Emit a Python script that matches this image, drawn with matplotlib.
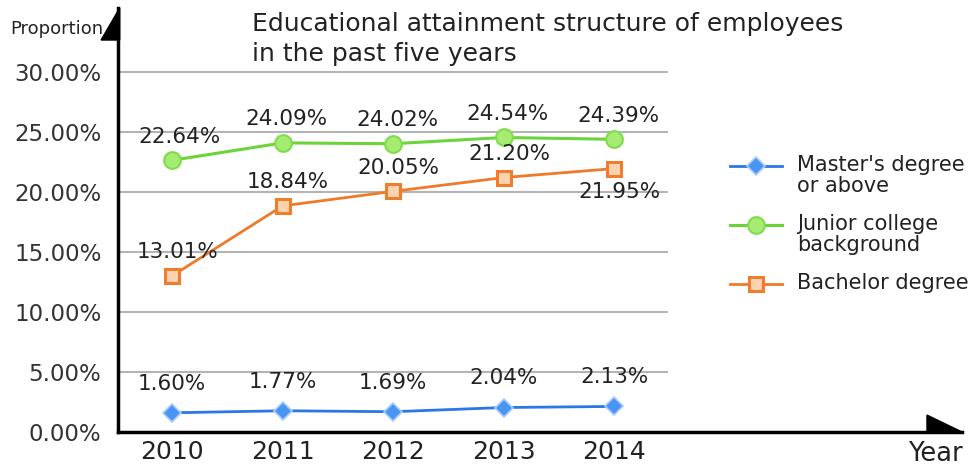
import matplotlib.pyplot as plt
from matplotlib.patches import Polygon
from matplotlib.lines import Line2D

plt.rcParams['font.family'] = ['DejaVu Sans']

years = [2010, 2011, 2012, 2013, 2014]
masters = [1.60, 1.77, 1.69, 2.04, 2.13]
junior = [22.64, 24.09, 24.02, 24.54, 24.39]
bachelor = [13.01, 18.84, 20.05, 21.20, 21.95]
series_names = ["Master's degree\nor above", "Junior college\nbackground", "Bachelor degree"]
y_ticks = [0, 5, 10, 15, 20, 25, 30]

W, H = 968, 468
fig = plt.figure(figsize=(W / 100, H / 100), dpi=100)
ax = fig.add_axes([118 / W, 36 / H, 844 / W, 424 / H])
ax.set_xlim(2009.51, 2017.15)
ax.set_ylim(0, 35.33)

# horizontal grid stops short of the legend
ax.hlines(y_ticks[1:], 2009.51, 2014.49, color='#b4b4b4', lw=1.5, zorder=1)

blue, green, orange = '#2a78e8', '#6cd33a', '#ee7a2a'
styles = [
    dict(color=blue, lw=2, marker='D', ms=9, mfc='#4a94f4', mec='#a9cdfa', mew=1.2),
    dict(color=green, lw=2.2, marker='o', ms=12, mfc='#a6ec72', mec='#7fdc4c', mew=1.5),
    dict(color=orange, lw=2, marker='s', ms=10, mfc='#fbd3b1', mec='#ef7d2c', mew=2.2),
]
for vals, st in zip([masters, junior, bachelor], styles):
    ax.plot(years, vals, zorder=3, **st)

lab = dict(ha='center', va='center', fontsize=15.5, color='#222222', textcoords='offset points')
for x, v in zip(years, masters):
    ax.annotate(f'{v:.2f}%', (x, v), xytext=(0, 21), **lab)
for x, v in zip(years, junior):
    ax.annotate(f'{v:.2f}%', (x, v), xytext=(5 if x == 2010 else 3, 17), **lab)
for x, v in zip(years, bachelor):
    dy = -17 if x == 2014 else 17
    ax.annotate(f'{v:.2f}%', (x, v), xytext=(4, dy), **lab)

ax.set_xticks(years)
ax.set_xticklabels([str(y) for y in years], fontsize=18, color='#222222')
ax.set_yticks(y_ticks)
ax.set_yticklabels([f'{t:.2f}%' for t in y_ticks], fontsize=16.5, color='#333333')
ax.tick_params(length=0, pad=6)
ax.tick_params(axis='y', pad=12)

for s in ['top', 'right']:
    ax.spines[s].set_visible(False)
for s in ['left', 'bottom']:
    ax.spines[s].set_linewidth(2.5)
    ax.spines[s].set_color('black')

# half arrow heads on the axes
tr = ax.transAxes
ax.add_patch(Polygon([(0.002, 1.0), (-0.020, 0.9245), (0.002, 0.9245)], closed=True,
                     color='black', transform=tr, clip_on=False))
ax.add_patch(Polygon([(1.0, 0.0), (0.9585, 0.040), (0.9585, 0.0)], closed=True,
                     color='black', transform=tr, clip_on=False))

fig.text(10 / W, 1 - 29 / H, 'Proportion', fontsize=13, va='center', color='#222222')
fig.text(1 - 5 / W, 1 - 454 / H, 'Year', fontsize=18.5, ha='right', va='center', color='#222222')
fig.text(252 / W, 1 - 12 / H, 'Educational attainment structure of employees\nin the past five years',
         fontsize=18, va='top', linespacing=1.3, color='#222222')

# legend drawn by hand so each marker sits on the first text line
for i, (name, st) in enumerate(zip(series_names, styles)):
    yy = 1 - (166 + 59 * i) / H
    fig.add_artist(Line2D([730 / W, 756 / W, 782 / W], [yy] * 3, transform=fig.transFigure,
                          markevery=[1], **st))
    fig.text(797 / W, yy + 11 / H, name, fontsize=15, va='top', linespacing=1.05, color='#222222')

fig.savefig('out.png', dpi=100)
